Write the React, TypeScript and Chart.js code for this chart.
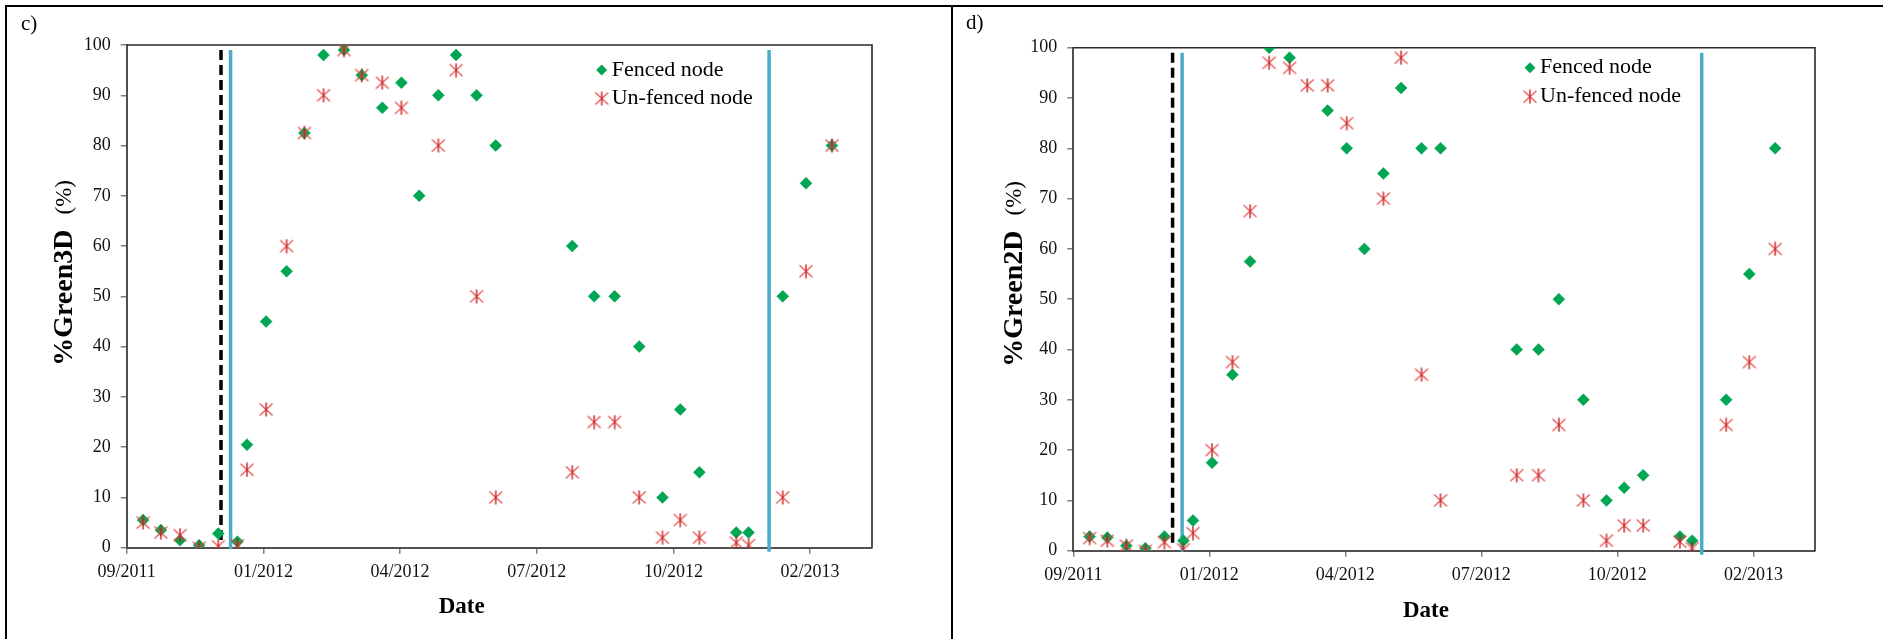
import React, { useEffect, useRef } from "react";
import { Chart, registerables } from "chart.js";

Chart.register(...registerables);

const FONT = '"Liberation Serif", "Times New Roman", serif';
const GREEN = "#00a651";

// ---- data ----
const sampleDates = [
  "2011-10-07", "2011-10-20", "2011-11-03", "2011-11-17", "2011-12-01", "2011-12-15",
  "2011-12-22", "2012-01-05", "2012-01-20", "2012-02-02", "2012-02-16", "2012-03-02",
  "2012-03-15", "2012-03-30", "2012-04-13", "2012-04-26", "2012-05-10", "2012-05-23",
  "2012-06-07", "2012-06-21", "2012-08-16", "2012-09-01", "2012-09-16", "2012-10-04",
  "2012-10-21", "2012-11-03", "2012-11-17", "2012-12-14", "2012-12-23", "2013-01-17",
  "2013-02-03", "2013-02-22",
];

const green3dFenced = [
  5.5, 3.5, 1.5, 0.5, 2.8, 1.2, 20.5, 45, 55, 82.5, 98, 99, 94, 87.5, 92.5, 70,
  90, 98, 90, 80, 60, 50, 50, 40, 10, 27.5, 15, 3, 3, 50, 72.5, 80,
];
const green3dUnfenced: (number | null)[] = [
  5, 3, 2.5, 0, 0.3, 0.5, 15.5, 27.5, 60, 82.5, 90, 99, 94, 92.5, 87.5, null,
  80, 95, 50, 10, 15, 25, 25, 10, 2, 5.5, 2, 1, 0.5, 10, 55, 80,
];

const green2dFenced: (number | null)[] = [
  2.8, 2.6, 1, 0.5, 2.8, 2, 6, 17.5, 35, 57.5, 100, 98, null, 87.5, 80, 60,
  75, 92, 80, 80, 40, 40, 50, 30, 10, 12.5, 15, 2.8, 2, 30, 55, 80,
];
const green2dUnfenced: (number | null)[] = [
  2.5, 2, 1, 0, 1.7, 0.3, 3.5, 20, 37.5, 67.5, 97, 96, 92.5, 92.5, 85, null,
  70, 98, 35, 10, 15, 15, 25, 10, 2, 5, 5, 1.8, 0.5, 25, 37.5, 60,
];

const xTickLabels = ["09/2011", "01/2012", "04/2012", "07/2012", "10/2012", "02/2013"];

// event lines (dates) per panel: dashed line, first blue line, second blue line
const panelCEventDates = ["2011-12-03", "2011-12-10", "2013-01-07"];
const panelDEventDates = ["2011-12-07", "2011-12-14", "2012-12-30"];

// axis settings
const AXIS_ORIGIN = "2011-09-25";
const TICK_STEP_DAYS = 100;
const AXIS_SPAN_DAYS = 545.3;

function dayNum(s: string): number {
  const [y, m, d] = s.split("-").map(Number);
  const [oy, om, od] = AXIS_ORIGIN.split("-").map(Number);
  return (Date.UTC(y, m - 1, d) - Date.UTC(oy, om - 1, od)) / 86400000;
}

function toPoints(vals: (number | null)[]) {
  const out: { x: number; y: number }[] = [];
  vals.forEach((v, i) => {
    if (v !== null && v !== undefined) out.push({ x: dayNum(sampleDates[i]), y: v });
  });
  return out;
}

function makeStar(): HTMLCanvasElement {
  const c = document.createElement("canvas");
  c.width = 16;
  c.height = 15;
  const g = c.getContext("2d")!;
  g.lineCap = "butt";
  g.strokeStyle = "rgba(228,72,72,0.9)";
  g.lineWidth = 1.4;
  g.beginPath();
  g.moveTo(1.5, 1.5);
  g.lineTo(14.5, 13.5);
  g.moveTo(14.5, 1.5);
  g.lineTo(1.5, 13.5);
  g.stroke();
  g.strokeStyle = "rgb(200,30,30)";
  g.lineWidth = 1.4;
  g.beginPath();
  g.moveTo(8, 0.5);
  g.lineTo(8, 14.5);
  g.stroke();
  return c;
}

type PanelSpec = {
  width: number;
  height: number;
  areaLeft: number;
  areaTop: number;
  areaRight: number;
  areaBottom: number;
  fenced: (number | null)[];
  unfenced: (number | null)[];
  events: string[];
  letter: string;
  letterX: number;
  letterY: number;
  yBold: string;
  yNorm: string;
  yTitleX: number;
  yTitleTop: number;
  dateX: number;
  dateY: number;
  legendMarkerX: number;
  legendTextX: number;
  legendY1: number;
  legendY2: number;
};

function drawDiamond(ctx: CanvasRenderingContext2D, x: number, y: number, r: number) {
  ctx.beginPath();
  ctx.moveTo(x, y - r);
  ctx.lineTo(x + r, y);
  ctx.lineTo(x, y + r);
  ctx.lineTo(x - r, y);
  ctx.closePath();
  ctx.fillStyle = GREEN;
  ctx.fill();
}

function buildChart(canvas: HTMLCanvasElement, spec: PanelSpec) {
  const star = makeStar();
  const ev = spec.events.map(dayNum);

  const decor = {
    id: "decor",
    beforeDatasetsDraw(chart: any) {
      const { ctx, chartArea: a } = chart;
      ctx.save();
      ctx.strokeStyle = "#2a2a2a";
      ctx.lineWidth = 1.6;
      ctx.beginPath();
      ctx.moveTo(a.left, a.top);
      ctx.lineTo(a.right, a.top);
      ctx.lineTo(a.right, a.bottom);
      ctx.stroke();
      ctx.restore();
    },
    afterDraw(chart: any) {
      const ctx: CanvasRenderingContext2D = chart.ctx;
      ctx.save();
      ctx.fillStyle = "#000";
      // panel letter
      ctx.font = `21px ${FONT}`;
      ctx.textAlign = "left";
      ctx.textBaseline = "middle";
      ctx.fillText(spec.letter, spec.letterX, spec.letterY);
      // x title
      ctx.font = `bold 23px ${FONT}`;
      ctx.textAlign = "center";
      ctx.fillText("Date", spec.dateX, spec.dateY);
      // y title (mixed weight), reads bottom-to-top; its end sits at yTitleTop
      ctx.save();
      ctx.textAlign = "left";
      ctx.font = `bold 28px ${FONT}`;
      const w1 = ctx.measureText(spec.yBold).width;
      ctx.font = `23px ${FONT}`;
      const w2 = ctx.measureText(spec.yNorm).width;
      const gap = 15;
      const total = w1 + gap + w2;
      ctx.translate(spec.yTitleX, spec.yTitleTop + total);
      ctx.rotate(-Math.PI / 2);
      ctx.font = `bold 28px ${FONT}`;
      ctx.fillText(spec.yBold, 0, 0);
      ctx.font = `23px ${FONT}`;
      ctx.fillText(spec.yNorm, w1 + gap, 0);
      ctx.restore();
      // legend
      drawDiamond(ctx, spec.legendMarkerX, spec.legendY1, 5.5);
      ctx.drawImage(star, spec.legendMarkerX - 8, spec.legendY2 - 7.5);
      ctx.fillStyle = "#000";
      ctx.font = `22px ${FONT}`;
      ctx.textAlign = "left";
      ctx.textBaseline = "middle";
      ctx.fillText("Fenced node", spec.legendTextX, spec.legendY1);
      ctx.fillText("Un-fenced node", spec.legendTextX, spec.legendY2);
      ctx.restore();
    },
  };

  const lineDs = (x: number, y0: number, y1: number, color: string, width: number, dash: number[]) => ({
    data: [
      { x, y: y0 },
      { x, y: y1 },
    ],
    showLine: true,
    borderColor: color,
    borderWidth: width,
    borderDash: dash,
    pointRadius: 0,
    clip: false as any,
    order: 3,
  });

  return new Chart(canvas, {
    type: "scatter",
    data: {
      datasets: [
        {
          label: "Fenced node",
          data: toPoints(spec.fenced),
          pointStyle: "rectRot",
          pointRadius: 6,
          backgroundColor: GREEN,
          borderColor: GREEN,
          borderWidth: 0.5,
          order: 2,
        },
        {
          label: "Un-fenced node",
          data: toPoints(spec.unfenced),
          pointStyle: star as any,
          pointRadius: 8,
          order: 1,
        },
        lineDs(ev[0], 99, 0.9, "#000000", 3.5, [10, 5]) as any,
        lineDs(ev[1], 99, -0.2, "#4bacc6", 3.5, []) as any,
        lineDs(ev[2], 99, -0.8, "#4bacc6", 3.5, []) as any,
      ],
    },
    options: {
      responsive: false,
      animation: false,
      devicePixelRatio: 1,
      layout: {
        padding: { left: 0, top: spec.areaTop, right: spec.width - spec.areaRight, bottom: 0 },
      },
      plugins: { legend: { display: false }, tooltip: { enabled: false } },
      scales: {
        x: {
          type: "linear",
          min: 0,
          max: AXIS_SPAN_DAYS,
          afterFit: (s: any) => {
            s.height = spec.height - spec.areaBottom;
          },
          afterBuildTicks: (s: any) => {
            s.ticks = xTickLabels.map((_, i) => ({ value: i * TICK_STEP_DAYS }));
          },
          ticks: {
            autoSkip: false,
            maxRotation: 0,
            padding: 8,
            color: "#111",
            font: { family: FONT, size: 18 },
            callback: (_v: any, i: number) => xTickLabels[i],
          },
          grid: { drawOnChartArea: false, tickLength: 6, color: "#7f7f7f", lineWidth: 1.5 },
          border: { display: true, color: "#505050", width: 2 },
        },
        y: {
          min: 0,
          max: 100,
          afterFit: (s: any) => {
            s.width = spec.areaLeft;
          },
          ticks: {
            stepSize: 10,
            autoSkip: false,
            padding: 10,
            color: "#111",
            font: { family: FONT, size: 18 },
          },
          grid: { drawOnChartArea: false, tickLength: 6, color: "#7f7f7f", lineWidth: 1.5 },
          border: { display: true, color: "#505050", width: 2 },
        },
      },
    },
    plugins: [decor],
  } as any);
}

const panelC: PanelSpec = {
  width: 951,
  height: 639,
  areaLeft: 126.7,
  areaTop: 45,
  areaRight: 872,
  areaBottom: 547.7,
  fenced: green3dFenced,
  unfenced: green3dUnfenced,
  events: panelCEventDates,
  letter: "c)",
  letterX: 21,
  letterY: 24,
  yBold: "%Green3D",
  yNorm: "(%)",
  yTitleX: 65,
  yTitleTop: 180,
  dateX: 461.7,
  dateY: 607,
  legendMarkerX: 601.7,
  legendTextX: 611.7,
  legendY1: 70,
  legendY2: 98.5,
};

const panelD: PanelSpec = {
  width: 930,
  height: 639,
  areaLeft: 120.3,
  areaTop: 47.7,
  areaRight: 862,
  areaBottom: 550.7,
  fenced: green2dFenced,
  unfenced: green2dUnfenced,
  events: panelDEventDates,
  letter: "d)",
  letterX: 13,
  letterY: 23,
  yBold: "%Green2D",
  yNorm: "(%)",
  yTitleX: 62,
  yTitleTop: 181,
  dateX: 473,
  dateY: 611,
  legendMarkerX: 577,
  legendTextX: 587,
  legendY1: 67.7,
  legendY2: 96.7,
};

function Panel({ spec, left }: { spec: PanelSpec; left: number }) {
  const ref = useRef<HTMLCanvasElement>(null);
  useEffect(() => {
    if (!ref.current) return;
    const ch = buildChart(ref.current, spec);
    return () => ch.destroy();
  }, [spec]);
  return (
    <canvas
      ref={ref}
      width={spec.width}
      height={spec.height}
      style={{ position: "absolute", left, top: 0, width: spec.width, height: spec.height, display: "block" }}
    />
  );
}

export default function App() {
  return (
    <div style={{ position: "fixed", left: 0, top: 0, width: 1883, height: 639, background: "#fff", overflow: "hidden" }}>
      <Panel spec={panelC} left={0} />
      <Panel spec={panelD} left={953} />
      <div style={{ position: "absolute", left: 5, top: 5, width: 1878, height: 2, background: "#000" }} />
      <div style={{ position: "absolute", left: 5, top: 5, width: 2, height: 634, background: "#000" }} />
      <div style={{ position: "absolute", left: 951, top: 5, width: 2, height: 634, background: "#000" }} />
    </div>
  );
}
